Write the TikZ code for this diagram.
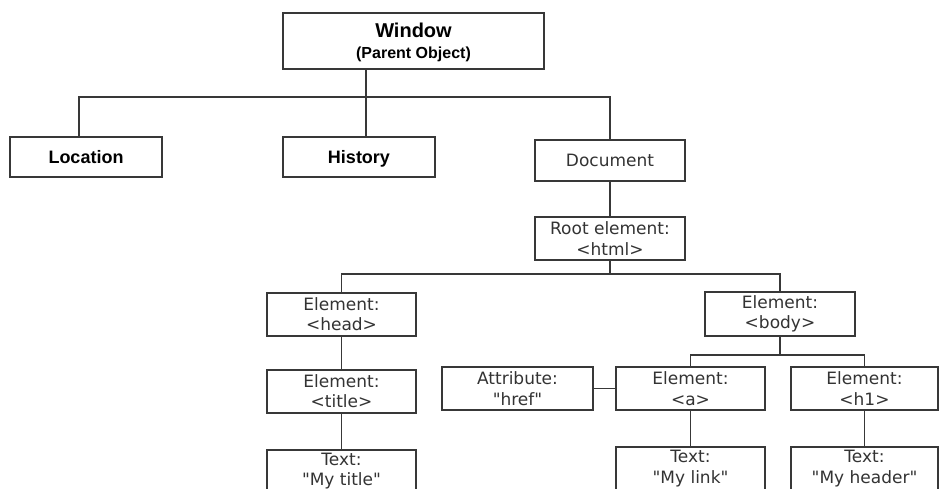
\documentclass[tikz,border=0pt]{standalone}
\usepackage{fontspec}
\newfontfamily\verdfont{DejaVu Sans}
\newfontfamily\arialfont{Liberation Sans}
\usetikzlibrary{positioning}
\definecolor{linegray}{HTML}{383838}
\definecolor{textgray}{HTML}{333333}
\tikzset{
    x=1pt,y=-1pt,
    box/.style ={rectangle, draw=linegray, line width=2pt, fill=white, inner sep=0pt,
                 minimum width=150pt, minimum height=43pt, align=center, text=textgray,
                 font=\verdfont\fontsize{17}{20.5}\selectfont},
    topbox/.style ={box, minimum width=152pt, minimum height=40pt, text=black,
                 text height=13pt, text depth=0pt,
                 font=\arialfont\bfseries\fontsize{18}{20}\selectfont},
    link/.style = {draw=linegray, line width=1.8pt}
}
\begin{document}
\begin{tikzpicture}
    \useasboundingbox (0,0) rectangle (939,489);
    \node[box, minimum width=261pt, minimum height=56pt, text=black, text depth=0pt] (window) at (413.5,41)
        {\arialfont\bfseries\fontsize{20}{20}\selectfont Window\\[1pt]
         \arialfont\bfseries\fontsize{16}{17}\selectfont (Parent Object)};
    \node[topbox] (location) at (86,157) {Location};
    \node[topbox] (history) at (359,157) {History};
    \node[box, minimum height=41pt] (document) at (610,160.5) {Document};
    \node[box] (root) [below=34pt of document] {Root element:\\<html>};

    \node[box, minimum width=149pt] (head) at (341.5,314) {Element:\\<head>};
    \node[box, minimum height=44pt] (body) at (780,314) {Element:\\<body>};
    \node[box, minimum width=149pt] (title) [below=32pt of head] {Element:\\<title>};
    \node[box, minimum width=151pt] (attr) at (517.5,388.5) {Attribute:\\"href"};
    \node[box, minimum width=149pt] (elema) at (690.5,388.5) {Element:\\<a>};
    \node[box, minimum width=147pt] (elemh) at (864.5,388.5) {Element:\\<h1>};
    \node[box, minimum width=149pt] (mytitle) [below=35pt of title] {Text:\\"My title"};
    \node[box, minimum width=149pt] (mylink) [below=35pt of elema] {Text:\\"My link"};
    \node[box, minimum width=147pt] (myheader) [below=35pt of elemh] {Text:\\"My header"};

    % buses
    \coordinate (topbus) at (0,97);
    \coordinate (midbus) at (0,274);
    \coordinate (lowbus) at (0,355);

    \draw[link] ([xshift=7pt]history.north) -- ([xshift=7pt]history.north |- window.south);
    \draw[link] ([xshift=-7pt]location.north) |- (topbus -| document.north) -- (document.north);
    \draw[link] (document) -- (root);
    \draw[link] (root.south) -- (root.south |- midbus);
    \draw[link] (head.north) |- (midbus -| body.north) -- (body.north);
    \draw[link] (body.south) -- (body.south |- lowbus);
    \draw[link] (elema.north) |- (lowbus -| elemh.north) -- (elemh.north);
    \draw[link] (head) -- (title);
    \draw[link] (title) -- (mytitle);
    \draw[link] (elema) -- (mylink);
    \draw[link] (elemh) -- (myheader);
    \draw[link] (attr) -- (elema);
\end{tikzpicture}
\end{document}
